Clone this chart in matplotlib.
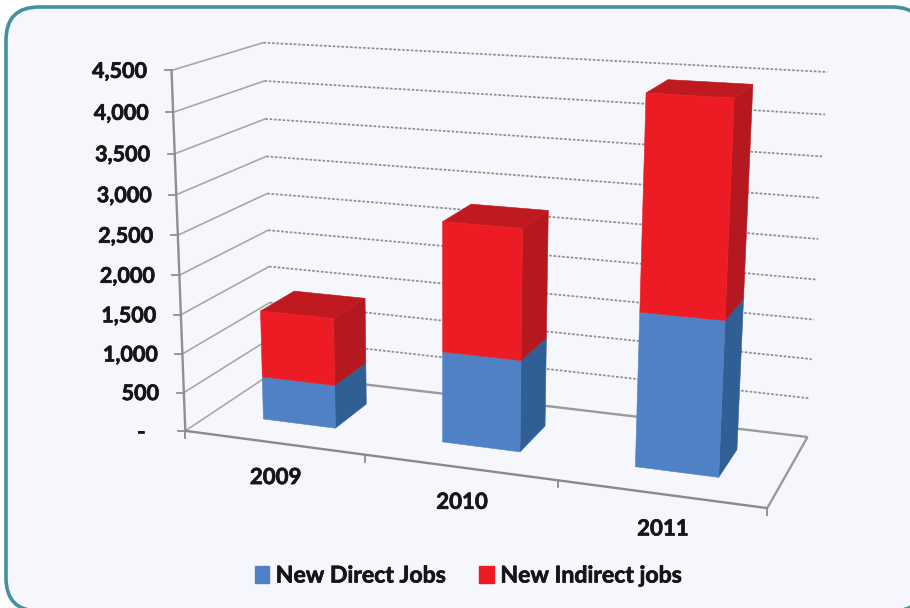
import matplotlib
matplotlib.use("Agg")
import matplotlib.patheffects as pe
import matplotlib.pyplot as plt
import numpy as np
from matplotlib.patches import FancyBboxPatch, Patch

years = ["2009", "2010", "2011"]
direct_jobs = [560, 1150, 1890]
indirect_jobs = [860, 1610, 2540]
value_ticks = [0, 500, 1000, 1500, 2000, 2500, 3000, 3500, 4000, 4500]
tick_labels = ["-", "500", "1,000", "1,500", "2,000", "2,500", "3,000", "3,500", "4,000", "4,500"]

BLUE_FRONT, BLUE_SIDE = "#4f81c4", "#305f95"
RED_FRONT, RED_SIDE, RED_TOP = "#ed1c24", "#b5191f", "#bf1a20"
FONT = "Lato"
INK = "#161616"
HEAVY = [pe.withStroke(linewidth=0.5, foreground=INK)]

# chart box corners (category, depth, value) and where they land on the canvas
box_world = np.array([
    [0, 0, 0], [0, 0, 4500], [0, 1, 4500], [3, 1, 4500],
    [3, 1, 0], [3, 0, 0], [0, 1, 0], [1, 0, 0],
], dtype=float)
box_canvas = np.array([
    [187, 431], [170, 70], [265, 43], [827, 72],
    [808, 437], [767, 508], [270, 373], [365, 455],
], dtype=float)


def fit_camera(world, canvas):
    """Least-squares perspective camera (DLT, last element fixed to 1)."""
    rows, rhs = [], []
    for (x, d, z), (u, v) in zip(world, canvas):
        s = z / 4500
        rows.append([x, d, s, 1, 0, 0, 0, 0, -u * x, -u * d, -u * s])
        rows.append([0, 0, 0, 0, x, d, s, 1, -v * x, -v * d, -v * s])
        rhs += [u, v]
    p = np.linalg.lstsq(np.array(rows), np.array(rhs), rcond=None)[0]
    return np.append(p, 1).reshape(3, 4)


CAMERA = fit_camera(box_world, box_canvas)


def project(x, d, z):
    u, v, w = CAMERA @ np.array([x, d, z / 4500, 1.0])
    return u / w, v / w


def line3d(ax, a, b, **kw):
    pa, pb = project(*a), project(*b)
    ax.plot([pa[0], pb[0]], [pa[1], pb[1]], solid_capstyle="butt", **kw)


def face(ax, corners, color):
    ax.fill(*zip(*[project(*c) for c in corners]), color=color, lw=0.4, zorder=5)


def draw_block(ax, x0, x1, d0, d1, z0, z1, front, side, top=None):
    face(ax, [(x1, d0, z0), (x1, d1, z0), (x1, d1, z1), (x1, d0, z1)], side)
    if top:
        face(ax, [(x0, d0, z1), (x1, d0, z1), (x1, d1, z1), (x0, d1, z1)], top)
    face(ax, [(x0, d0, z0), (x1, d0, z0), (x1, d0, z1), (x0, d0, z1)], front)


fig = plt.figure(figsize=(9.10, 6.08), dpi=100, facecolor="white")
ax = fig.add_axes([0, 0, 1, 1])
ax.set_xlim(0, 910)
ax.set_ylim(608, 0)
ax.axis("off")

# rounded panel, runs off the bottom and right edges
ax.add_patch(FancyBboxPatch((36, 37), 859, 544, boxstyle="round,pad=30,rounding_size=33",
                            fc="#f5f7fc", ec="#43919c", lw=2.6, zorder=0))

# walls: solid on the side wall, dotted on the back wall
for v in value_ticks:
    line3d(ax, (0, 0, v), (0, 1, v), color="#a8a8a8", lw=1.2, zorder=1)
    if v > 0:
        line3d(ax, (0, 1, v), (3, 1, v), color="#8e8e8e", lw=1.25, ls=(0, (1.5, 1.0)), zorder=1)

# floor outline and axes
floor_kw = dict(color="#9a9a9a", lw=1.7, zorder=2)
line3d(ax, (0, 1, 0), (3, 1, 0), **floor_kw)
line3d(ax, (3, 1, 0), (3, 0, 0), **floor_kw)
line3d(ax, (0, 0, 0), (3, 0, 0), color="#8a8a8a", lw=1.7, zorder=2)
line3d(ax, (0, 0, 0), (0, 0, 4500), color="#8f8f8f", lw=1.7, zorder=2)

for v, label in zip(value_ticks, tick_labels):
    u, w = project(0, 0, v)
    ax.plot([u - 7, u], [w, w], color="#8f8f8f", lw=1.3, zorder=2)
    right = u - 40 if v == 0 else u - 25
    ax.text(right, w + 1, label, ha="right", va="center", family=FONT, fontweight="bold",
            fontsize=15.5, color=INK, path_effects=HEAVY)

for i in range(4):
    u, w = project(i, 0, 0)
    ax.plot([u, u], [w, w + 7], color="#8a8a8a", lw=1.3, zorder=2)

# stacked blocks, left to right
half_w, d_front, d_back = 0.205, 0.3, 0.7
for i, (year, low, high) in enumerate(zip(years, direct_jobs, indirect_jobs)):
    x0, x1 = i + 0.5 - half_w, i + 0.5 + half_w
    draw_block(ax, x0, x1, d_front, d_back, 0, low, BLUE_FRONT, BLUE_SIDE)
    draw_block(ax, x0, x1, d_front, d_back, low, low + high, RED_FRONT, RED_SIDE, RED_TOP)
    u, w = project(i + 0.5, 0, 0)
    ax.text(u + 2, w + 35, year, ha="center", va="center", family=FONT, fontweight="bold",
            fontsize=16, color=INK, path_effects=HEAVY)

handles = [Patch(color=BLUE_FRONT, label="New Direct Jobs"),
           Patch(color=RED_FRONT, label="New Indirect jobs")]
legend = ax.legend(handles=handles, ncol=2, loc="center", bbox_to_anchor=(468 / 910, 1 - 576 / 608),
                   frameon=False, prop=dict(family=FONT, weight="bold", size=16.6),
                   handlelength=0.64, handleheight=0.8, handletextpad=0.28, columnspacing=1.45,
                   labelcolor=INK)
for text in legend.get_texts():
    text.set_path_effects(HEAVY)

fig.savefig("out.png", dpi=100, facecolor="white")
